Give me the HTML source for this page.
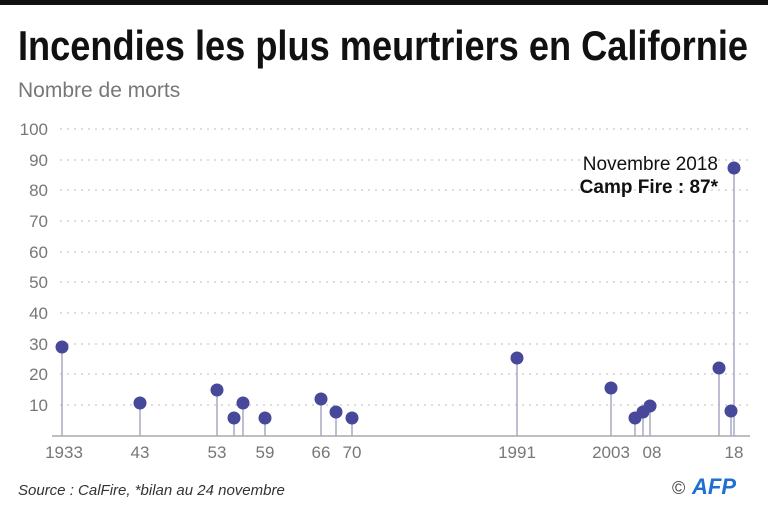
<!DOCTYPE html><html><head><meta charset="utf-8"><style>
body{margin:0;width:768px;height:512px;background:#fff;overflow:hidden;font-family:"Liberation Sans",sans-serif}
</style></head><body>
<svg width="768" height="512" xmlns="http://www.w3.org/2000/svg" font-family="Liberation Sans, sans-serif">
<rect x="0" y="0" width="768" height="5" fill="#111"/>
<text x="18" y="60" font-size="42" font-weight="bold" fill="#111" textLength="730" lengthAdjust="spacingAndGlyphs">Incendies les plus meurtriers en Californie</text>
<text x="18" y="97" font-size="21" fill="#777">Nombre de morts</text>
<g stroke="#bbb" stroke-width="1" stroke-dasharray="2,5">
<line x1="60" x2="748" y1="129" y2="129"/><line x1="60" x2="748" y1="160" y2="160"/><line x1="60" x2="748" y1="190" y2="190"/><line x1="60" x2="748" y1="221" y2="221"/><line x1="60" x2="748" y1="252" y2="252"/><line x1="60" x2="748" y1="282" y2="282"/><line x1="60" x2="748" y1="313" y2="313"/><line x1="60" x2="748" y1="344" y2="344"/><line x1="60" x2="748" y1="374" y2="374"/><line x1="60" x2="748" y1="405" y2="405"/>
</g>
<g font-size="17" fill="#777" text-anchor="end">
<text x="48" y="135">100</text><text x="48" y="166">90</text><text x="48" y="196">80</text><text x="48" y="227">70</text><text x="48" y="258">60</text><text x="48" y="288">50</text><text x="48" y="319">40</text><text x="48" y="350">30</text><text x="48" y="380">20</text><text x="48" y="411">10</text>
</g>
<line x1="52" x2="750" y1="436" y2="436" stroke="#aaa" stroke-width="1.5"/>
<g stroke="#a8a8c4" stroke-width="1.5">
<line x1="62" x2="62" y1="347" y2="436"/><line x1="140" x2="140" y1="403" y2="436"/><line x1="217" x2="217" y1="390" y2="436"/><line x1="234" x2="234" y1="418" y2="436"/><line x1="243" x2="243" y1="403" y2="436"/><line x1="265" x2="265" y1="418" y2="436"/><line x1="321" x2="321" y1="399" y2="436"/><line x1="336" x2="336" y1="412" y2="436"/><line x1="352" x2="352" y1="418" y2="436"/><line x1="517" x2="517" y1="358" y2="436"/><line x1="611" x2="611" y1="388" y2="436"/><line x1="635" x2="635" y1="418" y2="436"/><line x1="643" x2="643" y1="412" y2="436"/><line x1="650" x2="650" y1="406" y2="436"/><line x1="719" x2="719" y1="368" y2="436"/><line x1="731" x2="731" y1="411" y2="436"/><line x1="734" x2="734" y1="168" y2="436"/>
</g>
<g fill="#48489a">
<circle cx="62" cy="347" r="6.5"/><circle cx="140" cy="403" r="6.5"/><circle cx="217" cy="390" r="6.5"/><circle cx="234" cy="418" r="6.5"/><circle cx="243" cy="403" r="6.5"/><circle cx="265" cy="418" r="6.5"/><circle cx="321" cy="399" r="6.5"/><circle cx="336" cy="412" r="6.5"/><circle cx="352" cy="418" r="6.5"/><circle cx="517" cy="358" r="6.5"/><circle cx="611" cy="388" r="6.5"/><circle cx="635" cy="418" r="6.5"/><circle cx="643" cy="412" r="6.5"/><circle cx="650" cy="406" r="6.5"/><circle cx="719" cy="368" r="6.5"/><circle cx="731" cy="411" r="6.5"/><circle cx="734" cy="168" r="6.5"/>
</g>
<g font-size="17" fill="#777" text-anchor="middle">
<text x="64" y="458">1933</text><text x="140" y="458">43</text><text x="217" y="458">53</text><text x="265" y="458">59</text><text x="321" y="458">66</text><text x="352" y="458">70</text><text x="517" y="458">1991</text><text x="611" y="458">2003</text><text x="652" y="458">08</text><text x="734" y="458">18</text>
</g>
<text x="718" y="170" font-size="19" fill="#111" text-anchor="end">Novembre 2018</text>
<text x="718" y="193" font-size="19" font-weight="bold" fill="#111" text-anchor="end">Camp Fire : 87*</text>
<text x="18" y="495" font-size="15" font-style="italic" fill="#333">Source : CalFire, *bilan au 24 novembre</text>
<text x="672" y="494" font-size="18" fill="#444">©</text>
<text x="692" y="494" font-size="22" font-weight="bold" font-style="italic" fill="#1f6fd0">AFP</text>
</svg>
</body></html>
